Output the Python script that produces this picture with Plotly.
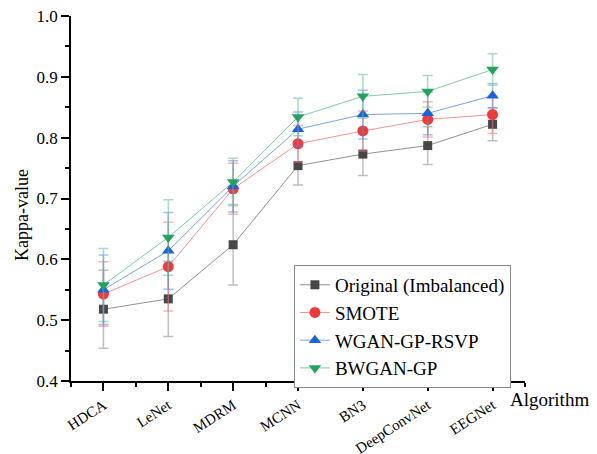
import plotly.graph_objects as go

algorithms = ["HDCA", "LeNet", "MDRM", "MCNN", "BN3", "DeepConvNet", "EEGNet"]

original = [0.518, 0.535, 0.624, 0.754, 0.773, 0.787, 0.822]
original_err = [0.064, 0.062, 0.066, 0.032, 0.035, 0.031, 0.027]

smote = [0.543, 0.588, 0.716, 0.790, 0.811, 0.830, 0.838]
smote_err = [0.053, 0.073, 0.042, 0.030, 0.033, 0.029, 0.031]

wgan = [0.550, 0.614, 0.720, 0.814, 0.838, 0.840, 0.869]
wgan_err = [0.057, 0.063, 0.042, 0.028, 0.040, 0.035, 0.020]

bwgan = [0.558, 0.636, 0.727, 0.834, 0.868, 0.876, 0.912]
bwgan_err = [0.060, 0.062, 0.039, 0.031, 0.036, 0.026, 0.026]

series = [
    ("Original (Imbalanced)", original, original_err, "square", 9,
     "#474747", "rgba(120,120,120,0.8)", "rgba(150,150,150,0.6)"),
    ("SMOTE", smote, smote_err, "circle", 11,
     "#ee3a3a", "rgba(240,120,120,0.8)", "rgba(240,120,120,0.55)"),
    ("WGAN-GP-RSVP", wgan, wgan_err, "triangle-up", 11,
     "#1f5fd8", "rgba(90,140,225,0.8)", "rgba(90,140,225,0.55)"),
    ("BWGAN-GP", bwgan, bwgan_err, "triangle-down", 11,
     "#22a35f", "rgba(100,190,140,0.8)", "rgba(100,190,140,0.55)"),
]

xs = list(range(len(algorithms)))
font = "Liberation Serif, Times New Roman, serif"

fig = go.Figure()
for name, vals, errs, sym, size, mcol, lcol, ecol in series:
    fig.add_trace(go.Scatter(
        x=xs, y=vals, name=name, mode="lines+markers",
        line=dict(color=lcol, width=1),
        marker=dict(symbol=sym, size=size, color=mcol),
        error_y=dict(type="data", array=errs, visible=True,
                     color=ecol, thickness=1.5, width=5),
    ))

# page body has an 8px margin, so the plot area is shifted up/left by 8px
fig.update_layout(
    width=597, height=454,
    margin=dict(l=63, r=80, t=8, b=81),
    plot_bgcolor="white", paper_bgcolor="white",
    font=dict(family=font, size=15, color="black"),
    showlegend=True,
    legend=dict(x=0.491, y=0.318, xanchor="left", yanchor="top",
                bordercolor="#888888", borderwidth=1,
                font=dict(size=19, family=font), tracegroupgap=0,
                bgcolor="white"),
    annotations=[
        dict(text="Algorithm", xref="paper", yref="paper",
             x=0.963, y=-0.052, xanchor="left", yanchor="middle",
             showarrow=False, font=dict(size=19, family=font)),
        dict(text="Kappa-value", xref="paper", yref="paper",
             x=-0.108, y=0.455, xanchor="center", yanchor="middle",
             textangle=-90, showarrow=False,
             font=dict(size=18, family=font)),
    ],
)

fig.update_xaxes(
    automargin=False, ticklabeloverflow="allow",
    range=[-0.5, 6.5], tickmode="array", tickvals=xs, ticktext=algorithms,
    tickangle=-33, showgrid=False, zeroline=False,
    showline=True, linecolor="black", linewidth=1.5,
    ticks="outside", ticklen=8, tickwidth=1.5, tickcolor="black",
    tickfont=dict(size=15),
    minor=dict(tickmode="linear", tick0=-0.5, dtick=0.5, ticks="outside",
               ticklen=4, tickwidth=1.5, tickcolor="black", showgrid=False),
)
fig.update_yaxes(
    automargin=False, ticklabeloverflow="allow",
    range=[0.4, 1.0], dtick=0.1, tick0=0.4, tickformat=".1f",
    showgrid=False, zeroline=False,
    showline=True, linecolor="black", linewidth=1.5,
    ticks="outside", ticklen=8, tickwidth=1.5, tickcolor="black",
    tickfont=dict(size=17),
    minor=dict(dtick=0.05, ticks="outside", ticklen=4, tickwidth=1.5,
               tickcolor="black", showgrid=False),
)

fig.write_html("out.html")
